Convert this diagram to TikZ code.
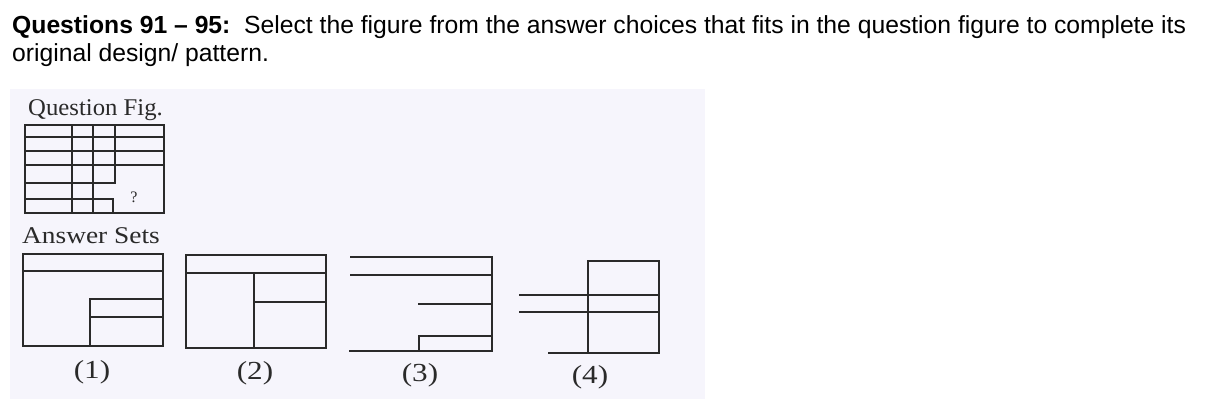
\documentclass[tikz,border=0pt]{standalone}
\usepackage{fontspec}
\setmainfont{Liberation Sans}
\newfontfamily\scanserif{Liberation Serif}
\definecolor{panel}{HTML}{F6F5FC}
\definecolor{ink}{HTML}{2A2A2A}
\tikzset{
  fig/.style={draw=ink, line width=2.3pt, line cap=rect, line join=miter},
  head/.style={anchor=base west, inner sep=0pt, font=\fontsize{24.7}{28}\selectfont},
  scan/.style={inner sep=0pt, text=ink, font=\scanserif\fontsize{24}{28}\selectfont},
  lab/.style={scan, font=\scanserif\fontsize{26}{30}\selectfont, xscale=1.2}
}
\begin{document}
\begin{tikzpicture}[x=1pt,y=-1pt]
\useasboundingbox (0,0) rectangle (1206,402);
\fill[white] (0,0) rectangle (1206,402);
\fill[panel] (10,89) rectangle (705,399);

\node[head] (h1) at (12,33) {\textbf{Questions 91 – 95:}\ \ Select the figure from the answer choices that fits in the question figure to complete its};
\node[head] (h2) at (12,61) {original design/ pattern.};

\node[scan, anchor=base west, xscale=1.03] (qf) at (28,115) {Question Fig.};
\node[scan, anchor=base west, xscale=1.14] (as) at (22,243) {Answer Sets};

% question figure
\draw[fig] (25,125) rectangle (164,213);
\draw[fig] (25,137) -- (164,137);
\draw[fig] (25,151) -- (164,151);
\draw[fig] (25,165) -- (164,165);
\draw[fig] (25,183) -- (115,183);
\draw[fig] (25,199) -- (113,199) -- (113,213);
\draw[fig] (72,125) -- (72,213);
\draw[fig] (93,125) -- (93,213);
\draw[fig] (115,125) -- (115,183);
\node[scan, font=\scanserif\fontsize{16}{18}\selectfont] (qm) at (134,197) {?};

% answer 1
\draw[fig] (23,254) rectangle (163,346);
\draw[fig] (23,271) -- (163,271);
\draw[fig] (90,346) -- (90,299) -- (163,299);
\draw[fig] (90,317) -- (163,317);
\node[lab] (l1) at (92,372) {(1)};

% answer 2
\draw[fig] (186,255) rectangle (326,348);
\draw[fig] (186,273) -- (326,273);
\draw[fig] (254,273) -- (254,348);
\draw[fig] (254,302) -- (326,302);
\node[lab] (l2) at (255,373) {(2)};

% answer 3
\draw[fig] (351,257) -- (492,257) -- (492,351) -- (350,351);
\draw[fig] (351,275) -- (492,275);
\draw[fig] (419,304) -- (492,304);
\draw[fig] (419,351) -- (419,336) -- (492,336);
\node[lab] (l3) at (420,375) {(3)};

% answer 4
\draw[fig] (549,353) -- (659,353) -- (659,261) -- (588,261) -- (588,353);
\draw[fig] (520,295) -- (659,295);
\draw[fig] (520,312) -- (659,312);
\node[lab] (l4) at (590,377) {(4)};
\end{tikzpicture}
\end{document}
